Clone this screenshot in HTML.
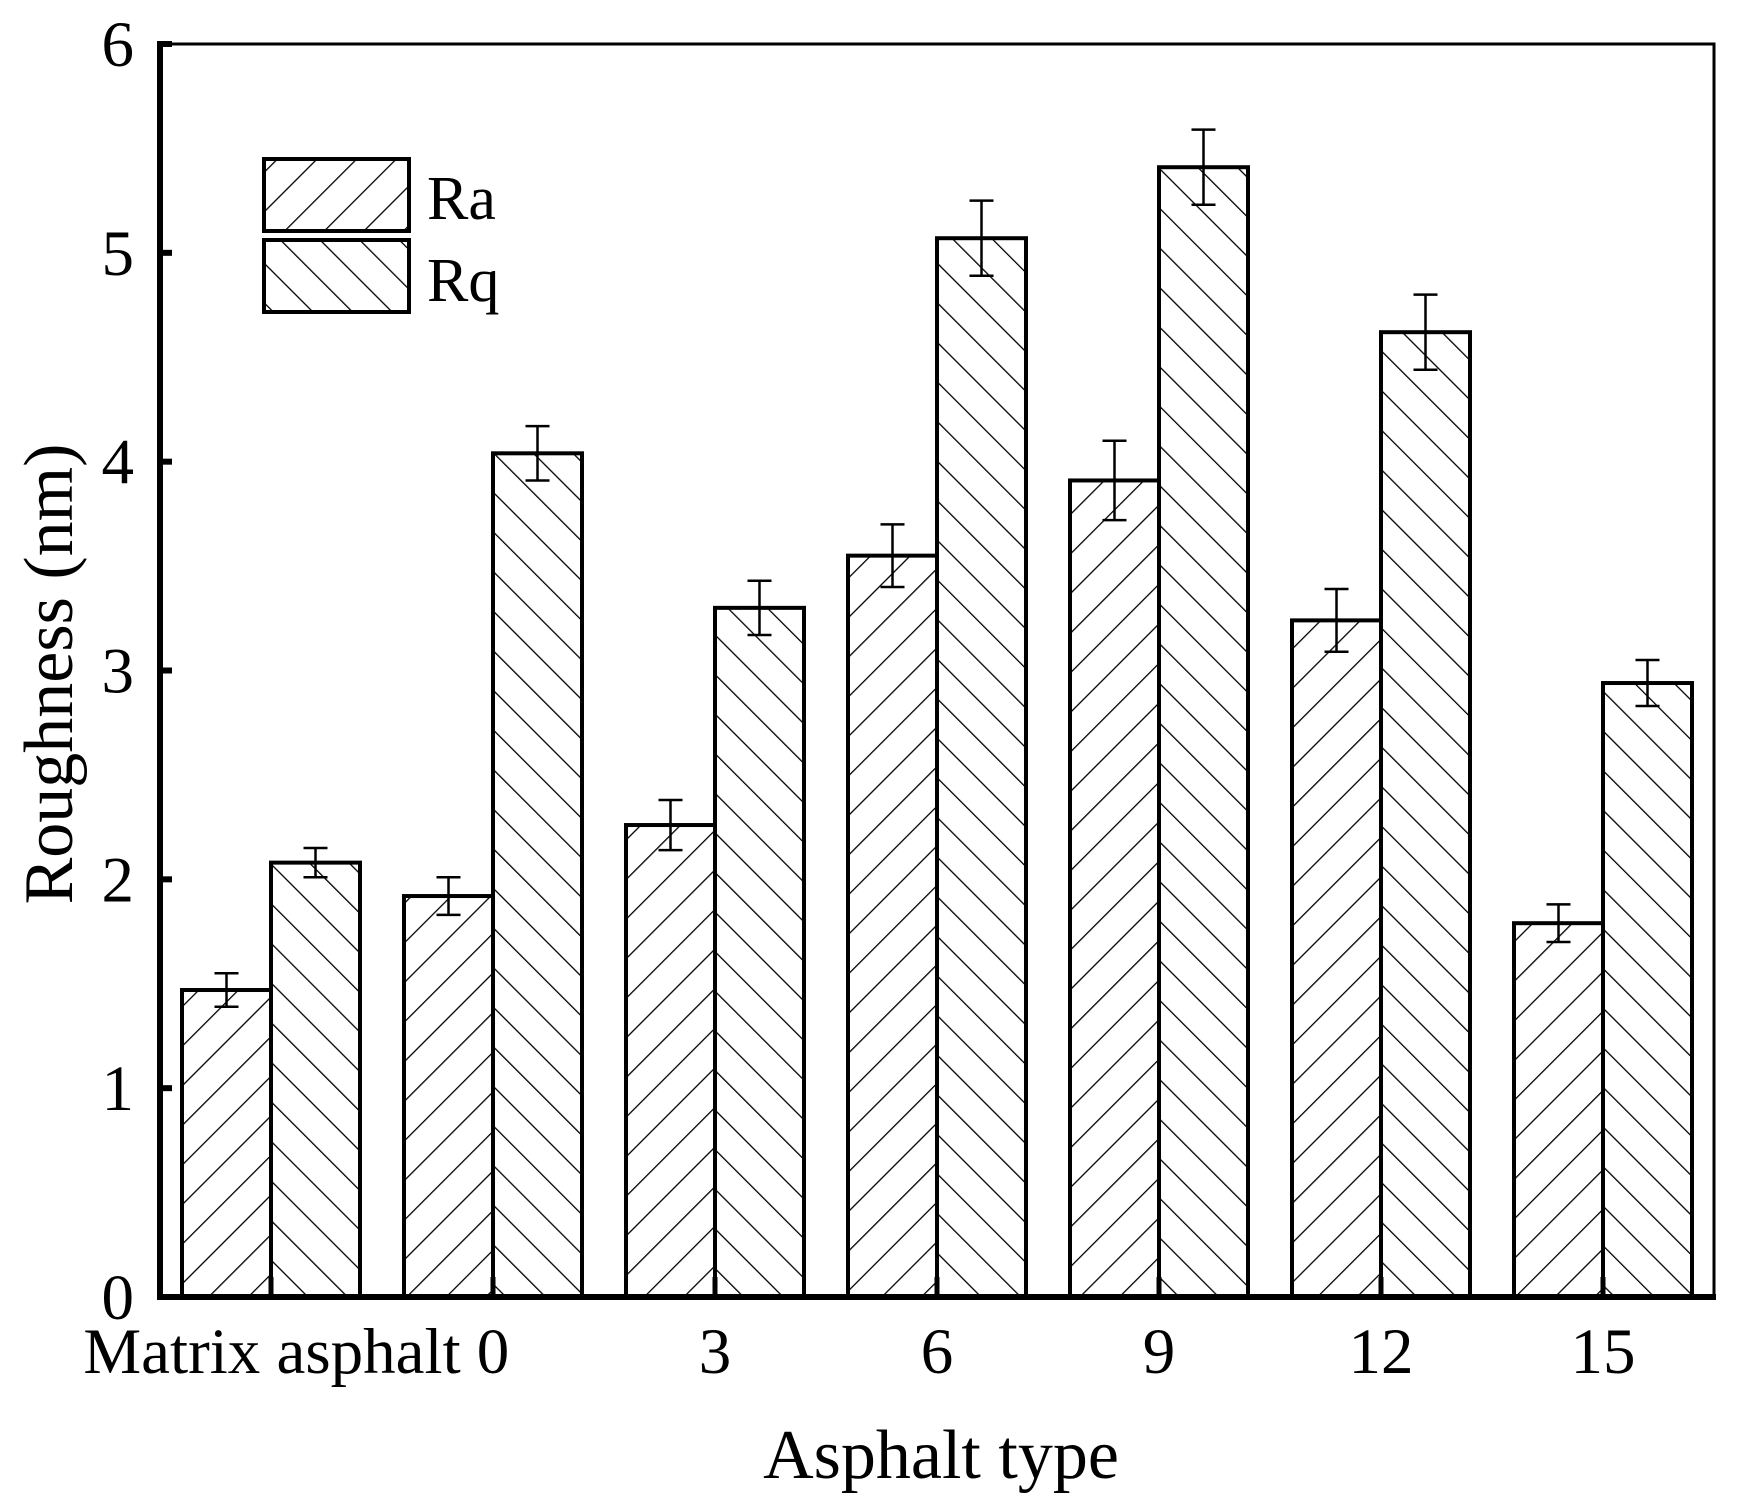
<!DOCTYPE html>
<html><head><meta charset="utf-8"><style>
html,body{margin:0;padding:0;background:#fff;}
svg{display:block;font-family:"Liberation Serif","Times New Roman",serif;}
</style></head><body>
<svg id="chart" width="1738" height="1503" viewBox="0 0 1738 1503" xmlns="http://www.w3.org/2000/svg">
<defs>
<pattern id="hatchRa" patternUnits="userSpaceOnUse" width="28" height="28" patternTransform="rotate(45)">
<line x1="0" y1="-5" x2="0" y2="33" stroke="#000" stroke-width="2.6"/>
</pattern>
<pattern id="hatchRq" patternUnits="userSpaceOnUse" width="28" height="28" patternTransform="rotate(-45)">
<line x1="0" y1="-5" x2="0" y2="33" stroke="#000" stroke-width="2.6"/>
</pattern>
</defs>
<g id="bars"></g>
<g id="axes"></g>
<g id="legend">
<rect x="264" y="159" width="145" height="72" fill="url(#hatchRa)" stroke="#000" stroke-width="4"/>
<text x="427" y="219" font-size="62">Ra</text>
<rect x="264" y="240" width="145" height="72" fill="url(#hatchRq)" stroke="#000" stroke-width="4"/>
<text x="427" y="301" font-size="62">Rq</text>
</g>
<text x="941" y="1478" font-size="70" text-anchor="middle">Asphalt type</text>
<text transform="translate(72,674) rotate(-90)" font-size="70" text-anchor="middle">Roughness (nm)</text>
</svg>
<script>
const categories = ["Matrix asphalt", "0", "3", "6", "9", "12", "15"];
const raValues = [1.47, 1.92, 2.26, 3.55, 3.91, 3.24, 1.79];
const raErrors = [0.08, 0.09, 0.12, 0.15, 0.19, 0.15, 0.09];
const rqValues = [2.08, 4.04, 3.30, 5.07, 5.41, 4.62, 2.94];
const rqErrors = [0.07, 0.13, 0.13, 0.18, 0.18, 0.18, 0.11];
const yTicks = [0, 1, 2, 3, 4, 5, 6];

const NS = "http://www.w3.org/2000/svg";
const L = 160, R = 1714, T = 44, B = 1297;
const yMax = 6;
function yScale(v){ return B - (v / yMax) * (B - T); }
const band = (R - L) / categories.length;
function xBand(i){ return L + band * i; }
const barW = 89;

function mk(tag, attrs, parent){
  const e = document.createElementNS(NS, tag);
  for (const k in attrs) e.setAttribute(k, attrs[k]);
  parent.appendChild(e);
  return e;
}
const gb = document.getElementById("bars");
const ga = document.getElementById("axes");

function drawSeries(vals, errs, offset, fill, label){
  vals.forEach((v, i) => {
    const x = xBand(i) + band / 2 + offset;
    const y = yScale(v);
    const r = mk("rect", {x: x, y: y, width: barW, height: B - y, fill: fill, stroke: "#000", "stroke-width": 4}, gb);
    
    
    const cx = x + barW / 2;
    const y1 = yScale(v + errs[i]), y2 = yScale(v - errs[i]);
    const eb = mk("path", {d: `M${cx},${y1}V${y2}M${cx-12},${y1}H${cx+12}M${cx-12},${y2}H${cx+12}`, stroke: "#000", "stroke-width": 2.5, fill: "none"}, gb);
    
    
  });
}
drawSeries(raValues, raErrors, -barW, "url(#hatchRa)", "ra");
drawSeries(rqValues, rqErrors, 0, "url(#hatchRq)", "rq");

const fr = mk("path", {d: `M${L},${T}H${R}V${B}`, stroke: "#000", "stroke-width": 3, fill: "none"}, ga);


const ya = mk("line", {x1: L, y1: T - 3, x2: L, y2: B + 3, stroke: "#000", "stroke-width": 6}, ga);


const xa = mk("line", {x1: L - 3, y1: B, x2: R + 2, y2: B, stroke: "#000", "stroke-width": 6}, ga);



yTicks.forEach(t => {
  const y = yScale(t);
  const tk = mk("line", {x1: L, y1: y, x2: L + 12, y2: y, stroke: "#000", "stroke-width": 6}, ga);
  
  
  const tx = mk("text", {x: 134, y: y + 22, "font-size": 65, "text-anchor": "end"}, ga);
  tx.textContent = t;
  
  
});
categories.forEach((c, i) => {
  const cx = xBand(i) + band / 2;
  const tk = mk("line", {x1: cx, y1: B, x2: cx, y2: B - 20, stroke: "#000", "stroke-width": 5}, ga);
  
  
  const tx = mk("text", {x: i === 0 ? cx + 1 : cx, y: 1373, "font-size": 65, "text-anchor": "middle"}, ga);
  tx.textContent = c;
  
  
});
</script>
</body></html>
